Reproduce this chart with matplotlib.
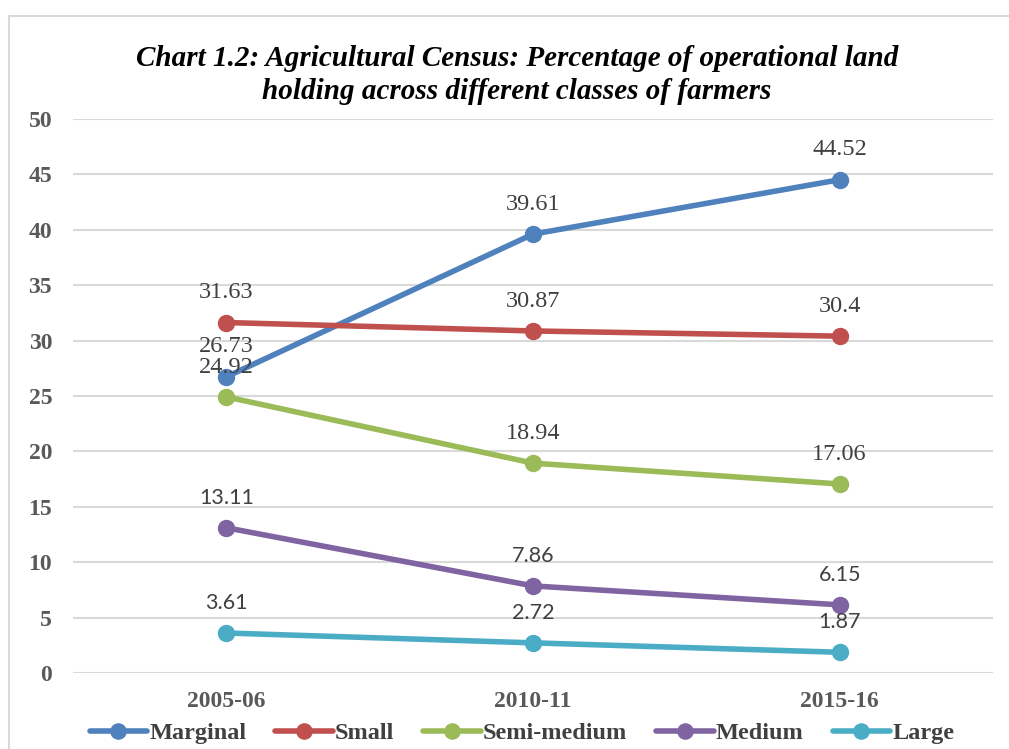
import matplotlib
matplotlib.use("Agg")
import matplotlib.pyplot as plt
from matplotlib.patches import Rectangle

years = ["2005-06", "2010-11", "2015-16"]
series_names = ["Marginal", "Small", "Semi-medium", "Medium", "Large"]
marginal = [26.73, 39.61, 44.52]
small = [31.63, 30.87, 30.4]
semi_medium = [24.92, 18.94, 17.06]
medium = [13.11, 7.86, 6.15]
large = [3.61, 2.72, 1.87]
label_texts = {
    "Marginal": ["26.73", "39.61", "44.52"],
    "Small": ["31.63", "30.87", "30.4"],
    "Semi-medium": ["24.92", "18.94", "17.06"],
    "Medium": ["13.11", "7.86", "6.15"],
    "Large": ["3.61", "2.72", "1.87"],
}
yticks = [0, 5, 10, 15, 20, 25, 30, 35, 40, 45, 50]

colors = ["#4F81BD", "#C0504D", "#9BBB59", "#8064A2", "#4BACC6"]
label_fonts = {
    "Marginal": "Liberation Serif",
    "Small": "Liberation Serif",
    "Semi-medium": "Liberation Serif",
    "Medium": "Lato",
    "Large": "Lato",
}

fig = plt.figure(figsize=(10.09, 7.49), dpi=100)
W, H = 1009, 749
ax = fig.add_axes([73 / W, 1 - 673 / H, (993 - 73) / W, (673 - 119) / H])

# chart frame
fig.patches.append(Rectangle((9 / W, -0.1), 1.2, 1 - 16 / H + 0.1,
                             transform=fig.transFigure, fill=False,
                             edgecolor="#d9d9d9", linewidth=1.5))

x = list(range(len(years)))
data = [marginal, small, semi_medium, medium, large]
for name, vals, c in zip(series_names, data, colors):
    ax.plot(x, vals, color=c, linewidth=4, marker="o", markersize=11.5,
            solid_capstyle="round", label=name, zorder=3)
    fs = 17.5 if label_fonts[name] == "Liberation Serif" else 15.5
    for xi, v, t in zip(x, vals, label_texts[name]):
        ax.annotate(t, (xi, v), xytext=(0, 21.5), textcoords="offset points",
                    ha="center", va="center", fontsize=fs,
                    family=label_fonts[name], color="#404040", zorder=4)

ax.set_xlim(-0.5, 2.5)
ax.set_ylim(0, 50)
ax.set_yticks(yticks)
ax.set_xticks(x)
ax.set_xticklabels(years)
for s in ax.spines.values():
    s.set_visible(False)
ax.grid(axis="y", color="#d9d9d9", linewidth=1.5)
ax.set_axisbelow(True)
ax.tick_params(length=0)
ax.tick_params(axis="y", pad=15)
ax.tick_params(axis="x", pad=13)
for lab in ax.get_yticklabels() + ax.get_xticklabels():
    lab.set_family("Liberation Serif")
    lab.set_fontweight("bold")
    lab.set_fontsize(17)
    lab.set_color("#595959")

fig.text(517 / W, 1 - 75 / H,
         "Chart 1.2: Agricultural Census: Percentage of operational land\nholding across different classes of farmers",
         ha="center", va="center", fontsize=21, family="Liberation Serif",
         fontweight="bold", fontstyle="italic", color="black", linespacing=1.3)

leg = fig.legend(loc="center", bbox_to_anchor=(522 / W, 1 - 733 / H), ncol=5,
                 frameon=False, handlelength=2.35, handletextpad=0.1,
                 columnspacing=1.2, markerscale=0.95,
                 prop={"family": "Liberation Serif", "weight": "bold", "size": 17.5})
for t in leg.get_texts():
    t.set_color("#404040")

fig.savefig("out.png", dpi=100)
